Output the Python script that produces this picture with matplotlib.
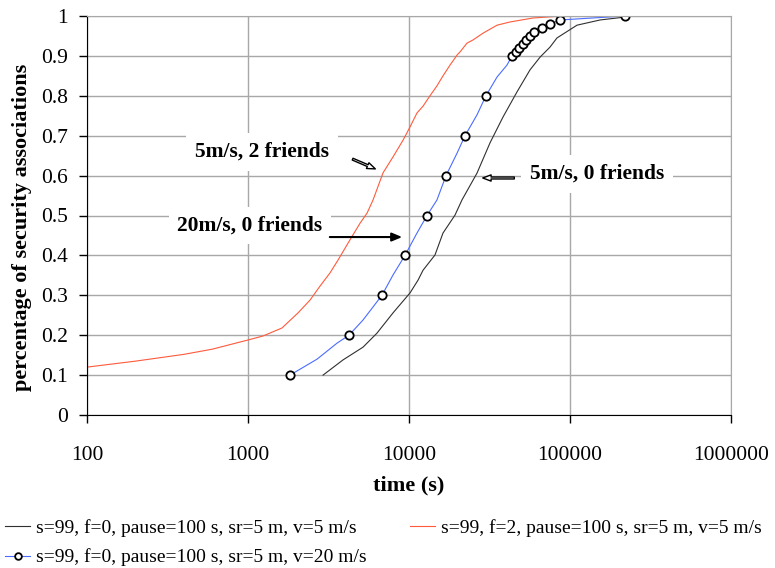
import matplotlib
matplotlib.use('Agg')
import matplotlib.pyplot as plt

# s=99, f=0, v=5 m/s
f0_v5_time = [2925, 3890, 5180, 6320, 7960, 10150, 11380, 12230, 14500, 16260, 19310,
              21330, 26430, 31850, 38380, 46900, 56450, 65200, 75120, 83000, 110500,
              153500, 250000]
f0_v5_pct = [0.10, 0.138, 0.170, 0.205, 0.256, 0.306, 0.338, 0.363, 0.401, 0.456, 0.501,
             0.539, 0.606, 0.682, 0.747, 0.810, 0.865, 0.897, 0.922, 0.945, 0.977,
             0.990, 1.0]

# s=99, f=2, v=5 m/s
f2_v5_time = [100, 200, 400, 600, 1000, 1239, 1625, 2046, 2428, 2800, 3230, 3620, 4300,
              4970, 5490, 5980, 6900, 7960, 9190, 10150, 11210, 12220, 13500, 14920,
              16260, 17980, 19870, 20750, 22920, 24990, 28830, 35220, 42380, 58900, 90000]
f2_v5_pct = [0.12, 0.135, 0.152, 0.165, 0.188, 0.198, 0.218, 0.256, 0.288, 0.323, 0.356,
             0.388, 0.439, 0.481, 0.506, 0.539, 0.607, 0.647, 0.689, 0.722, 0.757, 0.774,
             0.80, 0.825, 0.85, 0.877, 0.902, 0.91, 0.932, 0.94, 0.957, 0.977, 0.985,
             0.995, 1.0]

# s=99, f=0, v=20 m/s (markers only on some points)
f0_v20_time = [1824, 2685, 3570, 4240, 5180, 6790, 7960, 9440, 11210, 12940, 14920, 16980,
               19870, 22280, 26430, 30050, 35220, 40600, 43650, 46240, 48230, 51050, 53300,
               56450, 59770, 66940, 75120, 86700, 219600]
f0_v20_pct = [0.10, 0.14, 0.18, 0.20, 0.238, 0.30, 0.351, 0.40, 0.456, 0.50, 0.539, 0.60,
              0.656, 0.70, 0.752, 0.80, 0.847, 0.877, 0.90, 0.91, 0.92, 0.93, 0.94, 0.95,
              0.96, 0.97, 0.98, 0.99, 1.0]
f0_v20_marked = [0, 3, 5, 7, 9, 11, 13, 15, 18, 19, 20, 21, 22, 23, 24, 25, 26, 27, 28]

legend_labels = ["s=99, f=0, pause=100 s, sr=5 m, v=5 m/s",
                 "s=99, f=2, pause=100 s, sr=5 m, v=5 m/s",
                 "s=99, f=0, pause=100 s, sr=5 m, v=20 m/s"]

plt.rcParams['font.family'] = ['Liberation Serif', 'DejaVu Serif']

fig = plt.figure(figsize=(7.75, 5.68), dpi=100)
ax = fig.add_axes([87/775, 153/568, 644/775, 399/568])

l_black, = ax.plot(f0_v5_time, f0_v5_pct, color='#303030', lw=0.8)
l_red, = ax.plot(f2_v5_time, f2_v5_pct, color='#ff5a3c', lw=0.8)
l_blue, = ax.plot(f0_v20_time, f0_v20_pct, color='#4a6cff', lw=0.8,
                  marker='o', markevery=f0_v20_marked, markersize=6,
                  markerfacecolor='white', markeredgecolor='black', markeredgewidth=1.3)

ax.set_xscale('log')
ax.set_xlim(100, 1000000)
ax.set_ylim(0, 1)
ax.set_xticks([100, 1000, 10000, 100000, 1000000])
ax.set_xticklabels(['100', '1000', '10000', '100000', '1000000'])
ax.xaxis.set_minor_locator(matplotlib.ticker.NullLocator())
ax.set_yticks([i / 10 for i in range(11)])
ax.set_yticklabels(['0', '0.1', '0.2', '0.3', '0.4', '0.5', '0.6', '0.7', '0.8', '0.9', '1'])

ax.grid(True, color='#a8a8a8', lw=1.0)
ax.set_axisbelow(True)
ax.spines['top'].set_color('#a8a8a8')
ax.spines['right'].set_color('#a8a8a8')
ax.spines['left'].set_color('black')
ax.spines['bottom'].set_color('black')
ax.tick_params(axis='both', direction='out', length=5.5, width=1, labelsize=15.5)
ax.tick_params(axis='x', pad=17)
ax.tick_params(axis='y', pad=8)

ax.set_xlabel("time (s)", fontsize=16, fontweight='bold')
ax.xaxis.set_label_coords(0.5, -0.152)
ax.set_ylabel("percentage of security associations", fontsize=16, fontweight='bold')
ax.yaxis.set_label_coords(-0.085, 0.469)

box = dict(boxstyle='square,pad=0.4', fc='white', ec='none')
ax.text(1222, 0.659, "5m/s, 2 friends", fontsize=15.5, fontweight='bold',
        ha='center', va='center', bbox=box, zorder=5)
ax.text(1028, 0.474, "20m/s, 0 friends", fontsize=15.5, fontweight='bold',
        ha='center', va='center', bbox=box, zorder=5)
ax.text(147000, 0.604, "5m/s, 0 friends", fontsize=15.5, fontweight='bold',
        ha='center', va='center', bbox=box, zorder=5)

hollow = dict(arrowstyle='simple,head_width=0.45,head_length=0.6,tail_width=0.14',
              fc='white', ec='black', lw=1.0)
ax.annotate("", xy=(6410, 0.614), xytext=(4305, 0.644), arrowprops=hollow, zorder=6)
ax.annotate("", xy=(27600, 0.594), xytext=(46900, 0.594), arrowprops=hollow, zorder=6)
ax.annotate("", xy=(9440, 0.446), xytext=(3097, 0.446),
            arrowprops=dict(arrowstyle='-|>,head_width=0.25,head_length=0.6',
                            fc='black', ec='black', lw=1.5), zorder=6)

fig.legend([l_black, l_blue, l_red], [legend_labels[0], legend_labels[2], legend_labels[1]],
           loc='upper left', bbox_to_anchor=(5/775, 1 - 519/568), ncol=2, frameon=False,
           fontsize=14, handlelength=1.3, handletextpad=0.3, columnspacing=2.2,
           labelspacing=0.6, borderpad=0, borderaxespad=0, markerscale=0.8)

fig.savefig('out.png', dpi=100)
